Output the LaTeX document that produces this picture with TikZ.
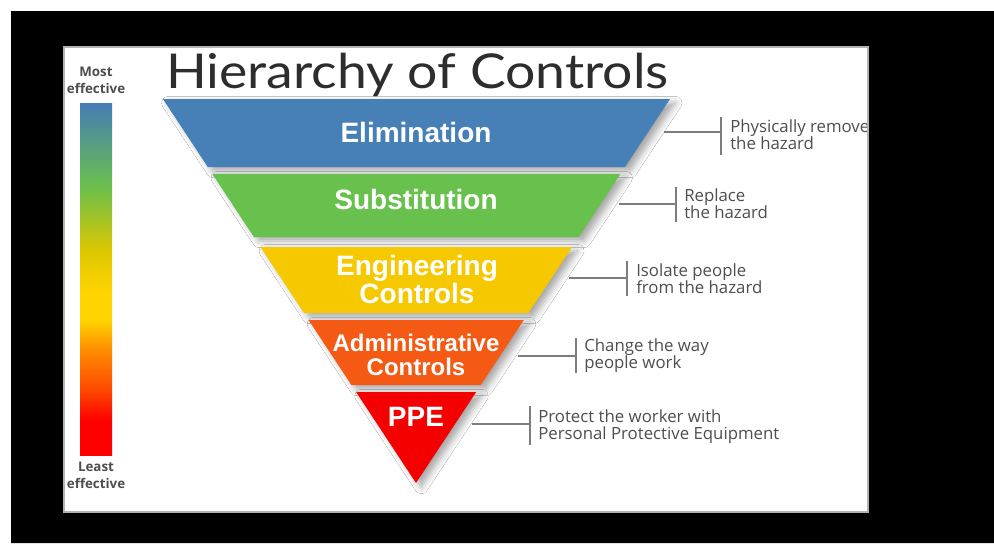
\documentclass[tikz,border=0pt]{standalone}
\usepackage{fontspec}
\setmainfont{Liberation Sans}
\newfontfamily\titlefont{Lato}
\newfontfamily\descfont{Open Sans}
\usetikzlibrary{shadows.blur}
\definecolor{elimc}{RGB}{70,128,182}
\definecolor{substc}{RGB}{104,193,76}
\definecolor{engc}{RGB}{246,200,0}
\definecolor{admc}{RGB}{244,90,20}
\definecolor{ppec}{RGB}{245,0,0}
\definecolor{descc}{RGB}{78,78,78}
\definecolor{linec}{RGB}{125,125,125}
\definecolor{titlec}{RGB}{45,45,45}
\pgfdeclareverticalshading{effbar}{100bp}{%
  rgb(0bp)=(1,0,0); rgb(25bp)=(1,0,0); rgb(30bp)=(1,0,0);
  rgb(34.2bp)=(1,0.28,0); rgb(39.9bp)=(1,0.55,0);
  rgb(44.2bp)=(1,0.83,0); rgb(48.4bp)=(1,0.83,0);
  rgb(54.1bp)=(0.86,0.78,0); rgb(63.1bp)=(0.42,0.75,0.3);
  rgb(75bp)=(0.27,0.49,0.71); rgb(100bp)=(0.27,0.49,0.71)}
\tikzset{
  layer/.style={blur shadow={shadow xshift=4pt,shadow yshift=-3pt,shadow blur radius=5pt,shadow opacity=35}},
  lab/.style={text=white,font=\bfseries\fontsize{21}{21}\selectfont,align=center,inner sep=0pt},
  desc/.style={text=descc,font=\descfont\fontsize{12.6}{12.75}\selectfont,align=left,anchor=west,inner sep=0pt},
  eff/.style={text=descc,font=\descfont\bfseries\fontsize{10}{12.75}\selectfont,align=center,inner sep=0pt},
  conn/.style={draw=linec,line width=1pt},
  brk/.style={draw=linec,line width=1.4pt},
}
\begin{document}
\begin{tikzpicture}[x=0.75pt,y=-0.75pt]
\useasboundingbox (0,0) rectangle (994,543);
\fill[white] (0,0) rectangle (994,543);
% layers
\fill[elimc,layer] (163,99) -- (670,99) -- (625.0,167) -- (207.8,167) -- cycle;
\fill[substc,layer] (212.4,174) -- (620.4,174) -- (578.7,237) -- (253.9,237) -- cycle;
\fill[engc,layer] (260.5,247) -- (572.1,247) -- (528.4,313) -- (304.0,313) -- cycle;
\fill[admc,layer] (308.6,320) -- (523.8,320) -- (480.8,385) -- (351.4,385) -- cycle;
\fill[ppec,layer] (356.1,392) -- (476.2,392) -- (416,483) -- cycle;
% labels
\node[lab] (elim) at (416,132) {Elimination};
\node[lab] (subst) at (416,199) {Substitution};
\node[lab] (eng) at (417,279) {Engineering\\Controls};
\node[lab,font=\bfseries\fontsize{18}{18}\selectfont] (adm) at (416,355) {Administrative\\Controls};
\node[lab] (ppe) at (416,417) {PPE};
% title
\node[anchor=base west,inner sep=0pt,text=titlec,font=\titlefont\fontsize{36}{36}\selectfont] (title) at (166,88) {\scalebox{1.115}[1]{Hierarchy of Controls}};
% effectiveness bar
\shade[shading=effbar] (80,103) rectangle (112,455);
\node[eff] (most) at (96,80.5) {Most\\effective};
\node[eff] (least) at (96,475.5) {Least\\effective};
% descriptions
\node[desc] (d1) at (730,134.5) {Physically remove\\the hazard};
\node[desc] (d2) at (684,204) {Replace\\the hazard};
\node[desc] (d3) at (636,278.5) {Isolate people\\from the hazard};
\node[desc] (d4) at (584,355.5) {Change the way\\people work};
\node[desc] (d5) at (538,427) {Protect the worker with\\Personal Protective Equipment};
% connectors
\coordinate (c1a) at (664,132); \coordinate (c1b) at (721,132);
\coordinate (c2a) at (619,204); \coordinate (c2b) at (676,204);
\coordinate (c3a) at (569,278); \coordinate (c3b) at (627,278);
\coordinate (c4a) at (518,356); \coordinate (c4b) at (576,356);
\coordinate (c5a) at (472,424); \coordinate (c5b) at (530,424);
\draw[conn] (c1a) -- (c1b); \draw[brk] (721,117) -- (721,155);
\draw[conn] (c2a) -- (c2b); \draw[brk] (676,187) -- (676,222);
\draw[conn] (c3a) -- (c3b); \draw[brk] (627,261) -- (627,296);
\draw[conn] (c4a) -- (c4b); \draw[brk] (576,338) -- (576,373);
\draw[conn] (c5a) -- (c5b); \draw[brk] (530,406) -- (530,445);
% frame
\fill[black,even odd rule] (11,11) rectangle (994,543) (64,47) rectangle (868,512);
\draw[gray!60,line width=0.8pt] (64,47) rectangle (868,512);
\end{tikzpicture}
\end{document}
